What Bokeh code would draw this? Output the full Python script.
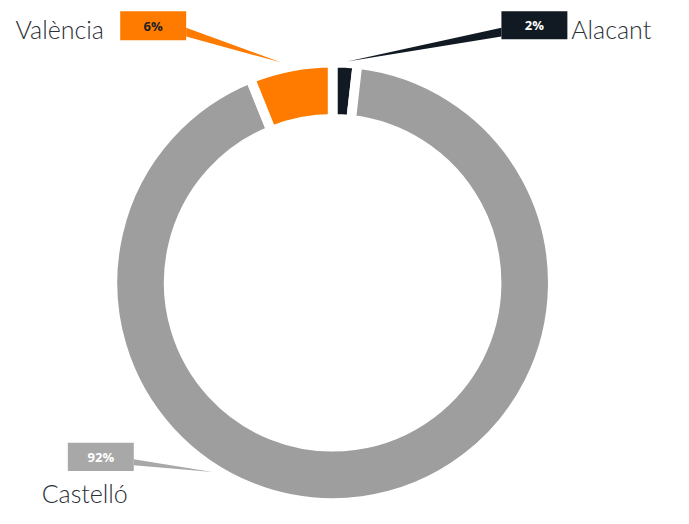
import math
from bokeh.plotting import figure
from bokeh.models import Range1d, ColumnDataSource
from bokeh.core.properties import value
from bokeh.embed import file_html
from bokeh.resources import INLINE

# ---- data ----
categories = ["Alacant", "Castelló", "València"]
values = [1.8, 92.1, 6.1]
colors = ["#111a22", "#9e9e9e", "#ff7b00"]
box_colors = ["#111a22", "#a8a8a8", "#ff7b00"]
pct_text_colors = ["#ffffff", "#ffffff", "#222222"]
pct_labels = [f"{round(v)}%" for v in values]

# ---- layout (reference pixel coordinates, scaled to fit the figure) ----
W, H = 673, 508
S = 0.97
OX = (W - 689 * S) / 2
OY = 0.0
CX, CY = 340, 291          # donut centre
R_OUT, R_IN = 222, 174
GAP = 10

# callout boxes: left, top, right, bottom
boxes = {
    "Alacant": (514, 11, 582, 40),
    "Castelló": (67, 456, 135, 485),
    "València": (121, 11, 189, 41),
}
# connector triangles: base top, base bottom (at box edge), tip
connectors = {
    "Alacant": [(514, 28), (514, 37), (355, 63)],
    "Castelló": [(135, 473), (135, 479), (216, 486)],
    "València": [(189, 28), (189, 37), (287, 64)],
}
# category names: x, vertical middle y
name_pos = {
    "Alacant": (586, 29),
    "Castelló": (40, 508),
    "València": (13, 29),
}


def X(px):
    return px * S + OX


def Y(py):
    return H - (py * S + OY)


p = figure(width=W, height=H, output_backend="svg", toolbar_location=None,
           x_range=Range1d(0, W), y_range=Range1d(0, H),
           x_axis_location=None, y_axis_location=None, min_border=0,
           background_fill_color="white", border_fill_color="white")
p.grid.visible = False
p.outline_line_color = None

# donut slices, clockwise from 12 o'clock
total = sum(values)
starts, ends = [], []
cum = 0.0
for v in values:
    starts.append(math.pi / 2 - 2 * math.pi * cum / total)
    cum += v
    ends.append(math.pi / 2 - 2 * math.pi * cum / total)

src = ColumnDataSource(dict(cat=categories, val=values, color=colors,
                            start=starts, end=ends))
p.annular_wedge(x=X(CX), y=Y(CY), inner_radius=(R_IN - GAP / 2) * S,
                outer_radius=(R_OUT + GAP / 2) * S,
                start_angle="start", end_angle="end", direction="clock",
                fill_color="color", line_color="white", line_width=GAP * S,
                line_join="round", source=src)

# callouts
for i, cat in enumerate(categories):
    pts = connectors[cat]
    p.patch([X(q[0]) for q in pts], [Y(q[1]) for q in pts],
            fill_color=box_colors[i], line_color=None)
    l, t, r, b = boxes[cat]
    p.quad(left=X(l), right=X(r), top=Y(t), bottom=Y(b),
           fill_color=box_colors[i], line_color=None)
    p.text(x=[X((l + r) / 2)], y=[Y((t + b) / 2)], text=[pct_labels[i]],
           text_font=value("Open Sans"), text_font_style="bold", text_font_size="13px",
           text_color=pct_text_colors[i], text_align="center", text_baseline="middle")
    nx, ny = name_pos[cat]
    p.text(x=[X(nx)], y=[Y(ny)], text=[cat], text_font=value("Lato Light, Lato"),
           text_font_size="25px", text_color="#2b2f36", text_align="left",
           text_baseline="middle")

open("out.html", "w").write(file_html(p, INLINE))
